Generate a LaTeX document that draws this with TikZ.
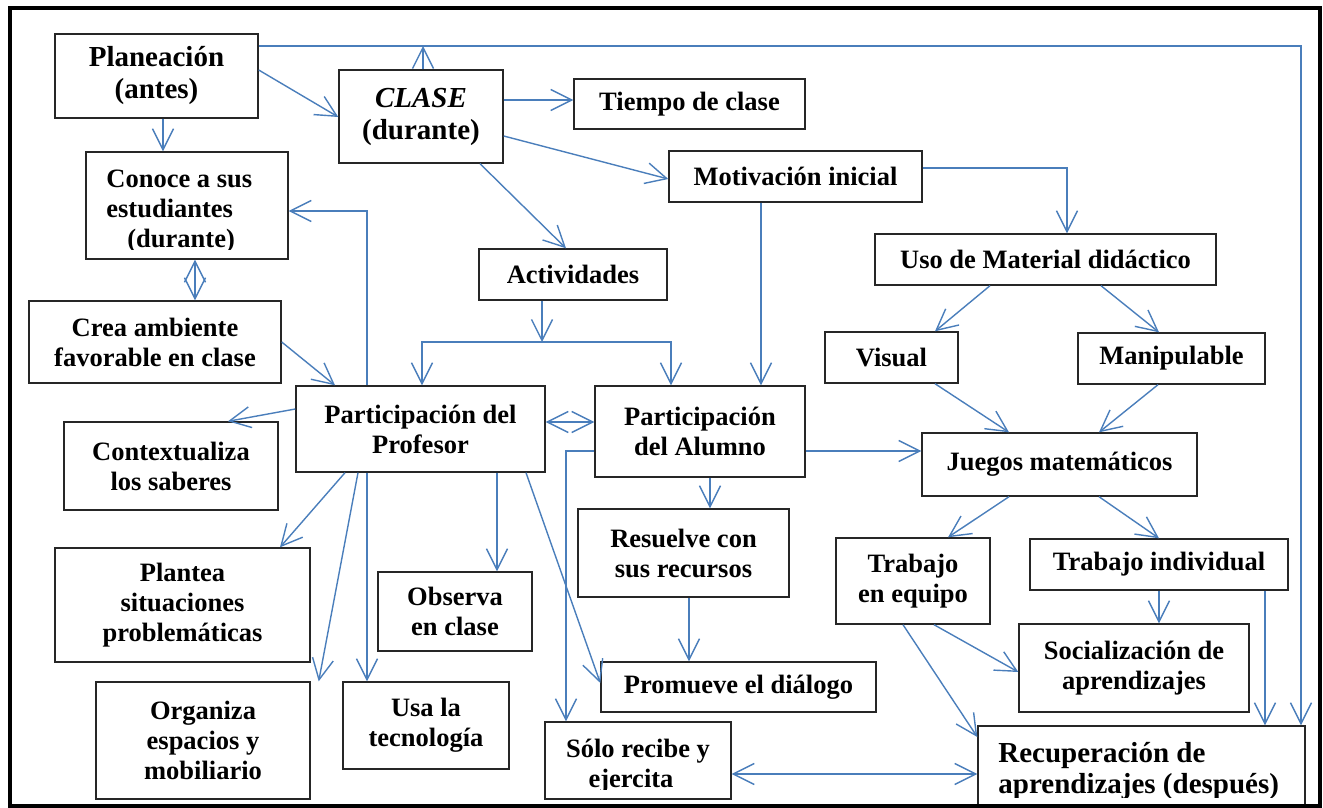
\documentclass[tikz,border=0pt]{standalone}
\usepackage{fontspec}
\setmainfont{Liberation Serif}
\usetikzlibrary{arrows.meta}
\definecolor{lnblue}{RGB}{74,126,187}
\newcommand\fsm{\fontsize{13.25pt}{15pt}\selectfont\bfseries}
\newcommand\fbg{\fontsize{14.5pt}{16pt}\selectfont\bfseries}
\tikzset{
  box/.style={draw=black!85, line width=0.7pt, fill=white, inner sep=0pt, align=center, font=\fsm},
  big/.style={font=\fbg},
  sz/.style 2 args={minimum width=#1*0.5pt, minimum height=#2*0.5pt},
  txt/.style={inner sep=0pt, font=\fsm},
  arr/.style={draw=lnblue, line width=0.7pt, -{Straight Barb[length=10.5pt,width=10.5pt]}},
  darr/.style={draw=lnblue, line width=0.7pt, {Straight Barb[length=10.5pt,width=10.5pt]}-{Straight Barb[length=10.5pt,width=10.5pt]}},
  ln/.style={draw=lnblue, line width=0.7pt}
}
\begin{document}
\begin{tikzpicture}[x=0.5pt,y=-0.5pt]
\useasboundingbox (0,0) rectangle (1323,808);
% boxes
\node[box,big,sz={203}{84}] (plan) at (156.5,76) {Planeación\\(antes)};
\node[box,big,sz={164}{93}] (clase) at (421,116.5) {{\itshape CLASE}\\(durante)};
\node[box,sz={231}{50}] (tiempo) at (689.5,104) {Tiempo de clase};
\node[box,sz={202}{107}] (conoce) at (187,205.5) {};
\node[box,sz={252}{82}] (crea) at (155,342) {Crea ambiente\\favorable en clase};
\node[box,sz={188}{51}] (activ) at (573,274.5) {Actividades};
\node[box,sz={253}{51}] (motiv) at (795.5,176.5) {Motivación inicial};
\node[box,sz={341}{51}] (uso) at (1045.5,259.5) {Uso de Material didáctico};
\node[box,sz={133}{51}] (visual) at (891.5,357.5) {Visual};
\node[box,sz={187}{51}] (manip) at (1171.5,358.5) {Manipulable};
\node[box,sz={249}{86}] (prof) at (420.5,429) {Participación del\\Profesor};
\node[box,sz={210}{91}] (alumno) at (700,431.5) {Participación\\del Alumno};
\node[box,sz={214}{88}] (context) at (171,466) {Contextualiza\\los saberes};
\node[box,sz={255}{114}] (plantea) at (182.5,605) {Plantea\\situaciones\\problemáticas};
\node[box,sz={154}{79}] (observa) at (455,611.5) {Observa\\en clase};
\node[box,sz={214}{117}] (organiza) at (203,740.5) {Organiza\\espacios y\\mobiliario};
\node[box,sz={166}{87}] (usa) at (426,725.5) {Usa la\\tecnología};
\node[box,sz={186}{77}] (solo) at (638,760.5) {};
\node[box,sz={211}{88}] (resuelve) at (683.5,553) {Resuelve con\\sus recursos};
\node[box,sz={275}{50}] (promueve) at (738.5,687) {Promueve el diálogo};
\node[box,sz={275}{63}] (juegos) at (1059.5,464.5) {Juegos matemáticos};
\node[box,sz={154}{86}] (equipo) at (913,581) {Trabajo\\en equipo};
\node[box,sz={258}{51}] (indiv) at (1159,564.5) {Trabajo individual};
\node[box,sz={230}{88}] (social) at (1134,668) {Socialización de\\aprendizajes};
\node[box,sz={327}{80}] (recup) at (1141.5,766) {};
% clipped texts
\begin{scope}
\clip (86,152) rectangle (288,249);
\node[txt,anchor=base west] (conoceA) at (106,188) {Conoce a sus};
\node[txt,anchor=base west] (conoceB) at (106,217) {estudiantes};
\node[txt,anchor=base west] (conoceC) at (127,247) {(durante)};
\end{scope}
\begin{scope}
\clip (545,722) rectangle (731,789);
\node[txt,anchor=base] (soloA) at (638,757) {Sólo recibe y};
\node[txt,anchor=base] (soloB) at (631,787) {ejercita};
\end{scope}
\begin{scope}
\clip (978,726) rectangle (1305,797);
\node[txt,font=\fbg,anchor=base west] (recupA) at (998,762) {Recuperación de};
\node[txt,font=\fbg,anchor=base west] (recupB) at (998,793) {aprendizajes (después)};
\end{scope}
% connectors
\coordinate (topR) at (1301,46);
\coordinate (topC) at (423,46);
\coordinate (split) at (542,342);
\draw[arr] (plan.east |- 0,70) -- (clase.west |- 0,117);
\draw[arr] (plan.south -| 163,0) -- (conoce.north -| 163,0);
\draw[arr] (plan.east |- topR) -- (topR) -- (recup.north -| topR);
\draw[arr] (clase.north -| topC) -- (topC);
\draw[arr] (clase.east |- 0,100) -- (tiempo.west |- 0,100);
\draw[arr] (clase.east |- 0,136) -- (motiv.west |- 0,179);
\draw[arr] (clase.south -| 480,0) -- (activ.north -| 566,0);
\draw[arr] (motiv.east |- 0,168) -| (uso.north -| 1067,0);
\draw[arr] (motiv.south -| 761,0) -- (alumno.north -| 761,0);
\draw[arr] (activ.south -| split) -- (split);
\draw[arr] (split) -| (prof.north -| 422,0);
\draw[arr] (split) -| (alumno.north -| 671,0);
\draw[darr] (conoce.south -| 195,0) -- (crea.north -| 195,0);
\draw[arr] (crea.east |- 0,342) -- (prof.north -| 335,0);
\draw[arr] (prof.north -| 367,0) |- (conoce.east |- 0,211);
\draw[arr] (prof.west |- 0,409) -- (context.north -| 228,0);
\draw[arr] (prof.south -| 345,0) -- (plantea.north -| 280,0);
\draw[arr] (prof.south -| 358,0) -- ([xshift=4pt]organiza.north east);
\draw[arr] (prof.south -| 367,0) -- (usa.north -| 367,0);
\draw[arr] (prof.south -| 497,0) -- (observa.north -| 497,0);
\draw[arr] (prof.south -| 526,0) -- (promueve.west |- 0,683);
\draw[darr] (prof.east |- 0,422) -- (alumno.west |- 0,422);
\draw[arr] (alumno.west |- 0,451) -| (solo.north -| 566,0);
\draw[arr] (alumno.south -| 710,0) -- (resuelve.north -| 710,0);
\draw[arr] (alumno.east |- 0,451) -- (juegos.west |- 0,451);
\draw[arr] (resuelve.south -| 689,0) -- (promueve.north -| 689,0);
\draw[darr] (solo.east |- 0,774) -- (recup.west |- 0,774);
\draw[arr] (uso.south -| 990,0) -- (visual.north -| 935,0);
\draw[arr] (uso.south -| 1101,0) -- (manip.north -| 1159,0);
\draw[arr] (visual.south -| 935,0) -- (juegos.north -| 1009,0);
\draw[arr] (manip.south -| 1158,0) -- (juegos.north -| 1099,0);
\draw[arr] (juegos.south -| 1009,0) -- (equipo.north -| 948,0);
\draw[arr] (juegos.south -| 1099,0) -- (indiv.north -| 1159,0);
\draw[arr] (indiv.south -| 1159,0) -- (social.north -| 1159,0);
\draw[arr] (indiv.south -| 1265,0) -- (recup.north -| 1265,0);
\draw[arr] (equipo.south -| 934,0) -- (social.west |- 0,672);
\draw[arr] (equipo.south -| 903,0) -- (recup.west |- 0,737);
% frame
\draw[line width=2pt] (10,8) rectangle (1320,806);
\end{tikzpicture}
\end{document}
